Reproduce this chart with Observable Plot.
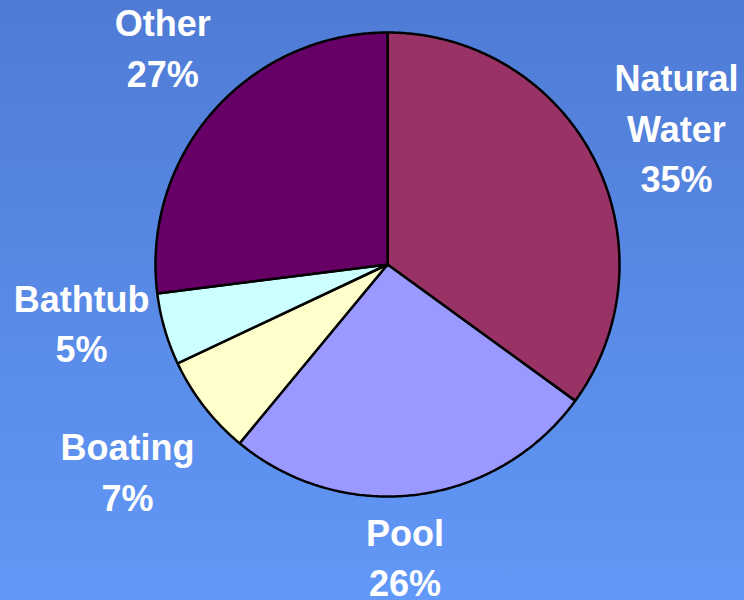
<!DOCTYPE html>
<html>
<head>
<meta charset="utf-8">
<script src="https://cdn.jsdelivr.net/npm/d3@7"></script>
<script src="https://cdn.jsdelivr.net/npm/@observablehq/plot@0.6"></script>
<style>
  html, body { margin: 0; padding: 0; background: #5a8ae8; }
</style>
</head>
<body>
<div id="chart"></div>
<script>
// Data
const names = ["Natural\nWater", "Pool", "Boating", "Bathtub", "Other"];
const values = [35, 26, 7, 5, 27];
const colors = ["#993366", "#9999ff", "#ffffcc", "#ccffff", "#660066"];

// Label placement (radius factor, angle in degrees clockwise from 12 o'clock)
const labelAt = [[1.373, 65.1], [1.275, 176.6], [1.44, 231.1], [1.345, 258.6], [1.338, 313.6]];

const total = d3.sum(values);
const cx = 387, cy = 264, r = 232;

const slices = [];
const labels = [];
let start = 0;
values.forEach((v, i) => {
  const a0 = start, a1 = start + (v / total) * 2 * Math.PI;
  slices.push({name: names[i], color: colors[i], x: 0, y: 0});
  const n = Math.max(2, Math.ceil((a1 - a0) / (Math.PI / 360)));
  for (let k = 0; k <= n; k++) {
    const a = a0 + (a1 - a0) * k / n;
    slices.push({name: names[i], color: colors[i], x: Math.sin(a), y: Math.cos(a)});
  }
  const [lr, la] = labelAt[i];
  const ang = la * Math.PI / 180;
  labels.push({text: `${names[i]}\n${v}%`, x: lr * Math.sin(ang), y: lr * Math.cos(ang)});
  start = a1;
});

const chart = Plot.plot({
  width: 744,
  height: 600,
  margin: 0,
  x: {domain: [-1, 1], range: [cx - r, cx + r], axis: null},
  y: {domain: [-1, 1], range: [cy + r, cy - r], axis: null},
  color: {type: "identity"},
  style: {
    background: "linear-gradient(to bottom, #4f7bd5, #6298f7)",
    fontFamily: "'Liberation Sans', Arial, sans-serif"
  },
  marks: [
    Plot.line(slices, {
      x: "x", y: "y", z: "name", fill: "color",
      stroke: "black", strokeWidth: 2.5, strokeLinejoin: "miter",
      curve: "linear-closed"
    }),
    Plot.text(labels, {
      x: "x", y: "y", text: "text", dy: -5,
      fill: "white", fontSize: 36, fontWeight: "bold",
      lineHeight: 1.4, lineAnchor: "middle", textAnchor: "middle"
    })
  ]
});
document.getElementById("chart").appendChild(chart);
</script>
</body>
</html>
